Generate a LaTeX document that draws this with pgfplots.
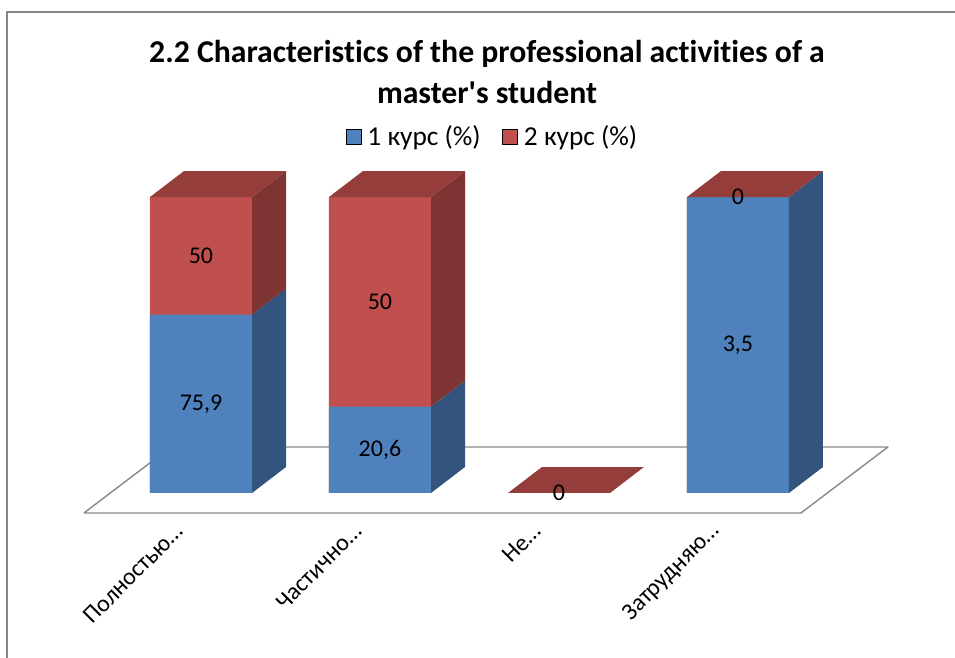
\documentclass[border=0pt]{standalone}
\usepackage{pgfplots}
\pgfplotsset{compat=1.18}
\usepackage{fontspec}
\setmainfont{Carlito}
\newfontfamily\titlefont[Ligatures=NoCommon]{Carlito}
\definecolor{bfront}{HTML}{4F81BD}
\definecolor{bside}{HTML}{33547C}
\definecolor{rfront}{HTML}{C0504D}
\definecolor{rside}{HTML}{7D3432}
\definecolor{rtop}{HTML}{953D3B}
\definecolor{floorgray}{HTML}{8C8C8C}
\definecolor{framegray}{HTML}{878787}
\begin{document}
\begin{tikzpicture}
\useasboundingbox (0,0) rectangle (716.25pt,492.75pt);
\begin{scope}[x=0.75pt,y=-0.75pt,yshift=492.75pt]
  \draw[framegray, line width=1.1pt] (7,660) -- (7,12) -- (960,12);
  \node[font=\titlefont\bfseries\fontsize{23.8}{30.75}\selectfont, align=center] at (487,72)
    {2.2 Characteristics of the professional activities of a\\master's student};
\end{scope}
\begin{axis}[
  at={(43.35pt,96.375pt)}, anchor=south west,
  scale only axis, width=637.65pt, height=275.25pt,
  xmin=-0.8, xmax=3.95, ymin=-12, ymax=112,
  clip=false,
  axis line style={draw=none},
  ytick=\empty,
  xtick={0,1,2,3},
  xticklabels={Полностью…,Частично…,Не…,Затрудняю…},
  major tick length=0pt,
  xticklabel style={xshift=-14pt, yshift=3pt, rotate=45, anchor=east, font=\fontsize{18}{21}\selectfont},
  legend style={at={(0.5116,1.067)}, anchor=center, draw=none, fill=none,
    legend columns=2, font=\fontsize{20.5}{24}\selectfont,
    /tikz/every even column/.append style={column sep=14pt}},
  legend image code/.code={\fill[#1] (0pt,-5.6pt) rectangle (11.25pt,5.6pt); \path (14pt,0pt);},
]
% floor
\addplot[draw=floorgray, line width=1.1pt, line join=round, forget plot]
  coordinates {(-0.654,-6.76) (3.352,-6.76) (3.838,15.54) (-0.168,15.54) (-0.654,-6.76)};
% front faces (100% stacked: cumulative tops)
\addplot[ybar, bar width=0.57, bar shift=0pt, fill=rfront, draw=none, forget plot]
  coordinates {(0,100) (1,100) (3,100)};
\addplot[ybar, bar width=0.57, bar shift=0pt, fill=bfront, draw=none, forget plot]
  coordinates {(0,60.29) (1,29.18) (3,100)};
% side faces
\addplot[fill=bside, draw=none, forget plot] coordinates {(0.285,0) (0.475,8.78) (0.475,69.07) (0.285,60.29)};
\addplot[fill=rside, draw=none, forget plot] coordinates {(0.285,60.29) (0.475,69.07) (0.475,108.78) (0.285,100)};
\addplot[fill=bside, draw=none, forget plot] coordinates {(1.285,0) (1.475,8.78) (1.475,37.96) (1.285,29.18)};
\addplot[fill=rside, draw=none, forget plot] coordinates {(1.285,29.18) (1.475,37.96) (1.475,108.78) (1.285,100)};
\addplot[fill=bside, draw=none, forget plot] coordinates {(3.285,0) (3.475,8.78) (3.475,108.78) (3.285,100)};
% top faces
\addplot[fill=rtop, draw=none, forget plot] coordinates {(-0.285,100) (0.285,100) (0.475,108.78) (-0.095,108.78)};
\addplot[fill=rtop, draw=none, forget plot] coordinates {(0.715,100) (1.285,100) (1.475,108.78) (0.905,108.78)};
\addplot[fill=rtop, draw=none, forget plot] coordinates {(1.715,0) (2.285,0) (2.475,8.78) (1.905,8.78)};
\addplot[fill=rtop, draw=none, forget plot] coordinates {(2.715,100) (3.285,100) (3.475,108.78) (2.905,108.78)};
% value labels (raw values)
\addplot[draw=none, forget plot, nodes near coords, point meta=explicit symbolic,
  nodes near coords style={anchor=center, font=\fontsize{18}{21}\selectfont, text=black}]
  table[meta=label] {
x y label
0 30.14 75,9
0 80.14 50
1 14.59 20,6
1 64.59 50
2 0 0
3 50 3,5
3 100 0
};
\addlegendimage{fill=bfront}
\addlegendentry{1 курс (\%)}
\addlegendimage{fill=rfront}
\addlegendentry{2 курс (\%)}
\end{axis}
\end{tikzpicture}
\end{document}
